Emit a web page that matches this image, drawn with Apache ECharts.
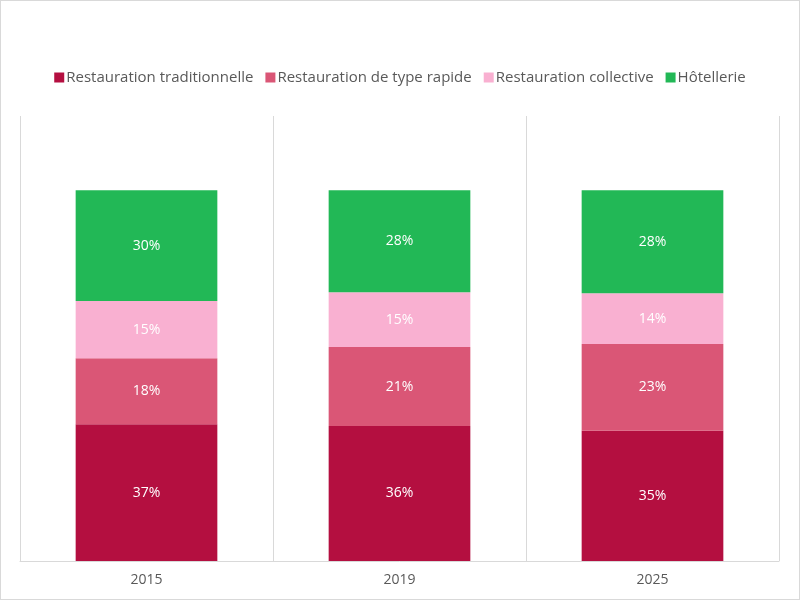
<!DOCTYPE html>
<html>
<head>
<meta charset="utf-8">
<script src="https://cdn.jsdelivr.net/npm/echarts@6/dist/echarts.min.js"></script>
<style>
  html, body { margin: 0; padding: 0; background: #fff; }
  #chart { width: 798px; height: 598px; border: 1px solid #d9d9d9; }
</style>
</head>
<body>
<div id="chart"></div>
<script>
const years = ['2015', '2019', '2025'];
// shares (labels are the rounded figures)
const traditionnelle = [36.9, 36.4, 35.1];
const rapide = [17.8, 21.3, 23.4];
const collective = [15.4, 14.8, 13.7];
const hotellerie = [29.9, 27.5, 27.8];

const seriesNames = [
  'Restauration traditionnelle',
  'Restauration de type rapide',
  'Restauration collective',
  'Hôtellerie'
];
const colors = ['#b40f40', '#da5676', '#f9b0d1', '#22b856'];
const values = [traditionnelle, rapide, collective, hotellerie];

const chart = echarts.init(document.getElementById('chart'));

chart.setOption({
  animation: false,
  legend: {
    top: 64,
    left: 'center',
    itemWidth: 10,
    itemHeight: 10,
    itemGap: 12,
    icon: 'rect',
    textStyle: { color: '#595959', fontSize: 15, fontFamily: '"Open Sans", sans-serif', padding: [0, 0, 0, -3] },
    data: seriesNames
  },
  grid: { left: 19, right: 20, top: 115, bottom: 38 },
  xAxis: {
    type: 'category',
    data: years,
    axisLine: { lineStyle: { color: '#d9d9d9' } },
    axisTick: { show: false },
    splitLine: { show: true, lineStyle: { color: '#d9d9d9' } },
    axisLabel: { color: '#595959', fontSize: 14, margin: 12, fontFamily: '"Open Sans", sans-serif' }
  },
  yAxis: {
    type: 'value',
    min: 0,
    max: 120,
    show: false
  },
  series: values.map((v, i) => ({
    name: seriesNames[i],
    type: 'bar',
    stack: 'total',
    barWidth: '56%',
    data: v,
    itemStyle: { color: colors[i] },
    label: {
      show: true,
      position: 'inside',
      formatter: (p) => Math.round(p.value) + '%',
      color: '#fff',
      fontSize: 14,
      fontFamily: '"Open Sans", sans-serif'
    }
  }))
});
</script>
</body>
</html>
